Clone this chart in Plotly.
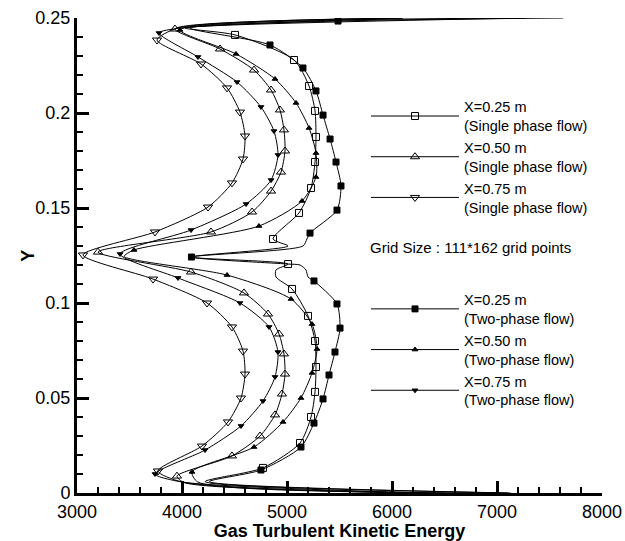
import plotly.graph_objects as go

# ---- data (x = gas turbulent kinetic energy, y = Y) ----
# Single phase flow, X=0.25 m (open squares)
sp25_x = [7270, 4030, 4505, 5067, 5210, 5267, 5276, 5267, 5229, 5114, 4867, 5010, 4090,
          5010, 4895, 4895, 5048, 5200, 5267, 5276, 5267, 5229, 5124, 4771, 4220, 7100]
sp25_y = [0.25, 0.2447, 0.2411, 0.2279, 0.2142, 0.2011, 0.1874, 0.1742, 0.1605, 0.1474, 0.1337, 0.1300, 0.1242,
          0.1205, 0.1174, 0.1137, 0.1074, 0.0932, 0.0800, 0.0663, 0.0532, 0.0400, 0.0263, 0.0132, 0.0060, 0.0]
sp25_m = [0, 0, 1, 1, 1, 1, 1, 1, 1, 1, 1, 0, 0, 1, 0, 0, 1, 1, 1, 1, 1, 1, 1, 1, 0, 0]

# Single phase flow, X=0.50 m (open triangles up)
sp50_x = [6100, 3933, 4362, 4686, 4848, 4933, 4971, 4981, 4943, 4848, 4667, 4276, 3200,
          4086, 4590, 4819, 4924, 4971, 4981, 4952, 4886, 4743, 4476, 3952, 4020, 6500]
sp50_y = [0.25, 0.2442, 0.2337, 0.2226, 0.2121, 0.2016, 0.1911, 0.1800, 0.1689, 0.1589, 0.1479, 0.1374, 0.1268,
          0.1163, 0.1053, 0.0942, 0.0837, 0.0732, 0.0626, 0.0521, 0.0411, 0.0300, 0.0195, 0.0089, 0.0055, 0.0]
sp50_m = [0] + [1] * 23 + [0, 0]

# Single phase flow, X=0.75 m (open triangles down)
sp75_x = [6100, 3960, 3762, 4181, 4429, 4552, 4600, 4581, 4476, 4248, 3743, 3057,
          3724, 4238, 4476, 4581, 4600, 4562, 4438, 4190, 3771, 4000, 6100]
sp75_y = [0.25, 0.2447, 0.2384, 0.2258, 0.2132, 0.2005, 0.1879, 0.1758, 0.1632, 0.1505, 0.1374, 0.1253,
          0.1126, 0.1000, 0.0874, 0.0747, 0.0626, 0.0500, 0.0374, 0.0247, 0.0116, 0.0058, 0.0]
sp75_m = [0, 0] + [1] * 19 + [0, 0]

# Two-phase flow, X=0.25 m (filled squares)
tp25_x = [7630, 5486, 4076, 4838, 5152, 5276, 5343, 5410, 5467, 5514, 5476, 5219, 5190, 5152, 4090,
          5010, 5124, 5181, 5200, 5257, 5476, 5505, 5457, 5400, 5343, 5257, 5133, 4752, 4260, 7130]
tp25_y = [0.25, 0.2484, 0.2447, 0.2358, 0.2237, 0.2116, 0.1989, 0.1863, 0.1742, 0.1616, 0.1489, 0.1368, 0.1337, 0.1300, 0.1242,
          0.1205, 0.1200, 0.1174, 0.1137, 0.1116, 0.0995, 0.0868, 0.0742, 0.0621, 0.0495, 0.0368, 0.0242, 0.0121, 0.0060, 0.0]
tp25_m = [0, 1, 0, 1, 1, 1, 1, 1, 1, 1, 1, 1, 0, 0, 1, 0, 0, 0, 0, 1, 1, 1, 1, 1, 1, 1, 1, 1, 0, 0]

# Two-phase flow, X=0.50 m (small filled triangles up)
tp50_x = [7270, 3981, 4514, 4886, 5086, 5210, 5276, 5276, 5143, 4733, 3543, 3450,
          4429, 5038, 5238, 5286, 5238, 5133, 4962, 4686, 4095, 4150, 6900]
tp50_y = [0.25, 0.2437, 0.2311, 0.2179, 0.2053, 0.1921, 0.1789, 0.1663, 0.1537, 0.1405, 0.1279, 0.1245,
          0.1147, 0.1021, 0.0889, 0.0758, 0.0632, 0.0500, 0.0374, 0.0242, 0.0111, 0.0058, 0.0]
tp50_m = [0, 1, 1, 1, 1, 1, 1, 1, 1, 1, 1, 0, 1, 1, 1, 1, 1, 1, 1, 1, 1, 0, 0]

# Two-phase flow, X=0.75 m (small filled triangles down)
tp75_x = [6100, 3980, 3781, 4152, 4524, 4752, 4876, 4914, 4848, 4610, 4086, 3410,
          3962, 4552, 4829, 4914, 4886, 4771, 4562, 4219, 3743, 4000, 6300]
tp75_y = [0.25, 0.2447, 0.2421, 0.2295, 0.2163, 0.2032, 0.1905, 0.1779, 0.1647, 0.1521, 0.1384, 0.1258,
          0.1132, 0.1000, 0.0874, 0.0742, 0.0611, 0.0484, 0.0353, 0.0226, 0.0100, 0.0058, 0.0]
tp75_m = [0, 0] + [1] * 19 + [0, 0]

series = [
    ("X=0.25 m<br>(Single phase flow)", sp25_x, sp25_y, sp25_m, "square-open", 7, "legend"),
    ("X=0.50 m<br>(Single phase flow)", sp50_x, sp50_y, sp50_m, "triangle-up-open", 8, "legend"),
    ("X=0.75 m<br>(Single phase flow)", sp75_x, sp75_y, sp75_m, "triangle-down-open", 8, "legend"),
    ("X=0.25 m<br>(Two-phase flow)", tp25_x, tp25_y, tp25_m, "square", 6, "legend2"),
    ("X=0.50 m<br>(Two-phase flow)", tp50_x, tp50_y, tp50_m, "triangle-up", 5, "legend2"),
    ("X=0.75 m<br>(Two-phase flow)", tp75_x, tp75_y, tp75_m, "triangle-down", 5, "legend2"),
]

FONT = "Arial, 'Liberation Sans', Helvetica, sans-serif"

fig = go.Figure()
for name, xs, ys, ms, sym, sz, lg in series:
    fig.add_trace(go.Scatter(x=xs, y=ys, mode="lines", showlegend=False,
                             line=dict(color="black", width=1, shape="spline", smoothing=0.7),
                             hoverinfo="skip"))
    mx = [x for x, m in zip(xs, ms) if m]
    my = [y for y, m in zip(ys, ms) if m]
    fig.add_trace(go.Scatter(x=mx, y=my, mode="markers", showlegend=False,
                             marker=dict(symbol=sym, size=sz, color="black",
                                         line=dict(color="black", width=1))))
    fig.add_trace(go.Scatter(x=[None], y=[None], mode="lines+markers", name=name, legend=lg,
                             line=dict(color="black", width=1),
                             marker=dict(symbol=sym, size=sz, color="black",
                                         line=dict(color="black", width=1))))

axis_common = dict(showline=True, linecolor="black", linewidth=3, ticks="inside",
                   ticklen=12, tickwidth=2.5, tickcolor="black", showgrid=False, zeroline=False,
                   automargin=False,
                   tickfont=dict(family=FONT, size=18, color="black"))

fig.update_xaxes(range=[3000, 8000], dtick=1000, tick0=3000,
                 minor=dict(dtick=200, ticks="inside", ticklen=6, tickwidth=1.5, tickcolor="black", showgrid=False),
                 title=dict(text="<b>Gas Turbulent Kinetic Energy</b>", font=dict(family=FONT, size=18, color="black"),
                            standoff=2),
                 **axis_common)
fig.update_yaxes(range=[0, 0.25], dtick=0.05, tick0=0,
                 minor=dict(dtick=0.01, ticks="inside", ticklen=6, tickwidth=1.5, tickcolor="black", showgrid=False),
                 **axis_common)

legend_common = dict(xanchor="left", yanchor="top", itemwidth=88, bgcolor="rgba(0,0,0,0)",
                     font=dict(family=FONT, size=14.5, color="black"), tracegroupgap=0)

fig.update_layout(
    width=625, height=541,
    margin=dict(l=77, r=23, t=18, b=48),
    plot_bgcolor="white", paper_bgcolor="white",
    showlegend=True,
    legend=dict(x=0.5505, y=0.847, **legend_common),
    legend2=dict(x=0.5505, y=0.441, **legend_common),
    annotations=[
        dict(text="Grid Size : 111*162 grid points", xref="paper", yref="paper",
             x=0.554, y=0.516, xanchor="left", yanchor="middle", showarrow=False,
             font=dict(family=FONT, size=15, color="black")),
        dict(text="<b>Y</b>", xref="paper", yref="paper", x=-0.095, y=0.5,
             xanchor="center", yanchor="middle", textangle=-90, showarrow=False,
             font=dict(family=FONT, size=18, color="black")),
    ],
)

fig.write_html("out.html")
